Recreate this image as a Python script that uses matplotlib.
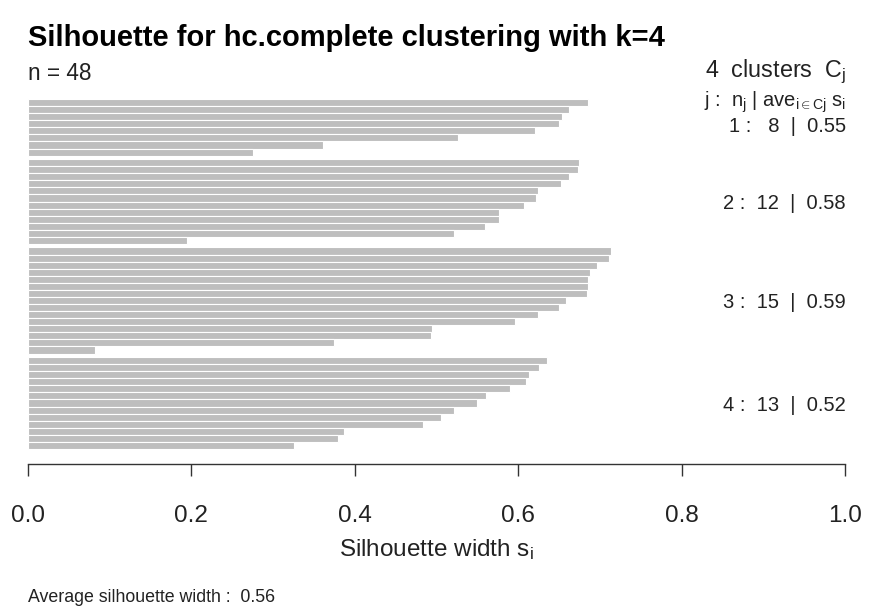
import matplotlib
matplotlib.use("Agg")
import matplotlib.pyplot as plt
import numpy as np

plt.rcParams['font.family'] = ['Liberation Sans', 'DejaVu Sans']
plt.rcParams['mathtext.fontset'] = 'custom'
plt.rcParams['mathtext.rm'] = 'Liberation Sans'
plt.rcParams['mathtext.it'] = 'Liberation Sans'
plt.rcParams['mathtext.bf'] = 'Liberation Sans:bold'

title = "Silhouette for hc.complete clustering with k=4"
clusters = [1, 2, 3, 4]
cluster_sizes = [8, 12, 15, 13]
cluster_avg = [0.55, 0.58, 0.59, 0.52]
avg_width = 0.56

sil_c1 = [0.686, 0.662, 0.654, 0.650, 0.620, 0.526, 0.361, 0.275]
sil_c2 = [0.675, 0.673, 0.662, 0.652, 0.624, 0.622, 0.607, 0.577, 0.577,
          0.559, 0.521, 0.195]
sil_c3 = [0.714, 0.711, 0.697, 0.688, 0.686, 0.686, 0.684, 0.658, 0.650,
          0.624, 0.596, 0.494, 0.493, 0.374, 0.082]
sil_c4 = [0.635, 0.626, 0.613, 0.609, 0.590, 0.560, 0.549, 0.521, 0.506,
          0.483, 0.387, 0.380, 0.325]
sil = [sil_c1, sil_c2, sil_c3, sil_c4]
xticks = [0.0, 0.2, 0.4, 0.6, 0.8, 1.0]
xtick_labels = ["0.0", "0.2", "0.4", "0.6", "0.8", "1.0"]

W, H = 878, 610
fig = plt.figure(figsize=(W / 100, H / 100), dpi=100)
ax_l, ax_r = 28, 845
ax_t, ax_b = 90, 464
ax = fig.add_axes([ax_l / W, 1 - ax_b / H, (ax_r - ax_l) / W, (ax_b - ax_t) / H])

gap = 0.5
ypos = []
centers = []
y = 0.0
for vals in sil:
    ys = []
    for v in vals:
        ys.append(y)
        y -= 1.0
    ypos.append(ys)
    centers.append((ys[0] + ys[-1]) / 2)
    y -= gap

for vals, ys in zip(sil, ypos):
    ax.barh(np.array(ys) - 0.5, vals, height=1.0, color='#BEBEBE',
            edgecolor='white', linewidth=0.8)

px_per_unit = 7.05
bottom_edge = ypos[-1][-1] - 1.0
top_edge = 0.0
ax.set_ylim(bottom_edge - (ax_b - 449) / px_per_unit, top_edge + (99 - ax_t) / px_per_unit)
ax.set_xlim(0, 1)

for s in ['top', 'right', 'left']:
    ax.spines[s].set_visible(False)
ax.spines['bottom'].set_linewidth(1.0)
ax.spines['bottom'].set_color('#333333')
ax.set_yticks([])
ax.set_xticks(xticks)
ax.set_xticklabels(xtick_labels, fontsize=17.5)
ax.tick_params(axis='x', length=8.5, width=1.0, color='#333333', pad=21, labelcolor='#222222')

fig.text(436.5 / W, 1 - 550 / H, r"Silhouette width $s_i$", fontsize=17.5,
         ha='center', va='center', color='#222222')

fig.text(ax_l / W, 1 - 38 / H, title, fontsize=21, fontweight='bold',
         va='center', ha='left')
fig.text(ax_l / W, 1 - 73 / H, "n = 48", fontsize=16.3, va='center', ha='left', color='#222222')

rx = 846 / W
fig.text(rx, 1 - 72 / H, r"4  clusters  $C_j$", fontsize=16.8, ha='right', va='center', color='#222222')
fig.text(rx, 1 - 102 / H, r"j :  $n_j$ | $ave_{i\in Cj}$ $s_i$", fontsize=14.5, ha='right', va='center', color='#222222')

for c, n, a, cy in zip(clusters, cluster_sizes, cluster_avg, centers):
    ydisp = ax.transData.transform((0, cy - 0.5))[1]
    yfig = ydisp / H - 2 / H
    if c == 1:
        yfig = 1 - 127 / H
    label = f"{c} :   {n:d}  |  {a:.2f}" if n < 10 else f"{c} :  {n:d}  |  {a:.2f}"
    fig.text(rx, yfig, label, fontsize=14.5, ha='right', va='center', color='#222222')

fig.text(ax_l / W, 1 - 597 / H, f"Average silhouette width :  {avg_width:.2f}",
         fontsize=12.8, ha='left', va='center', color='#222222')

fig.savefig("out.png", dpi=100)
